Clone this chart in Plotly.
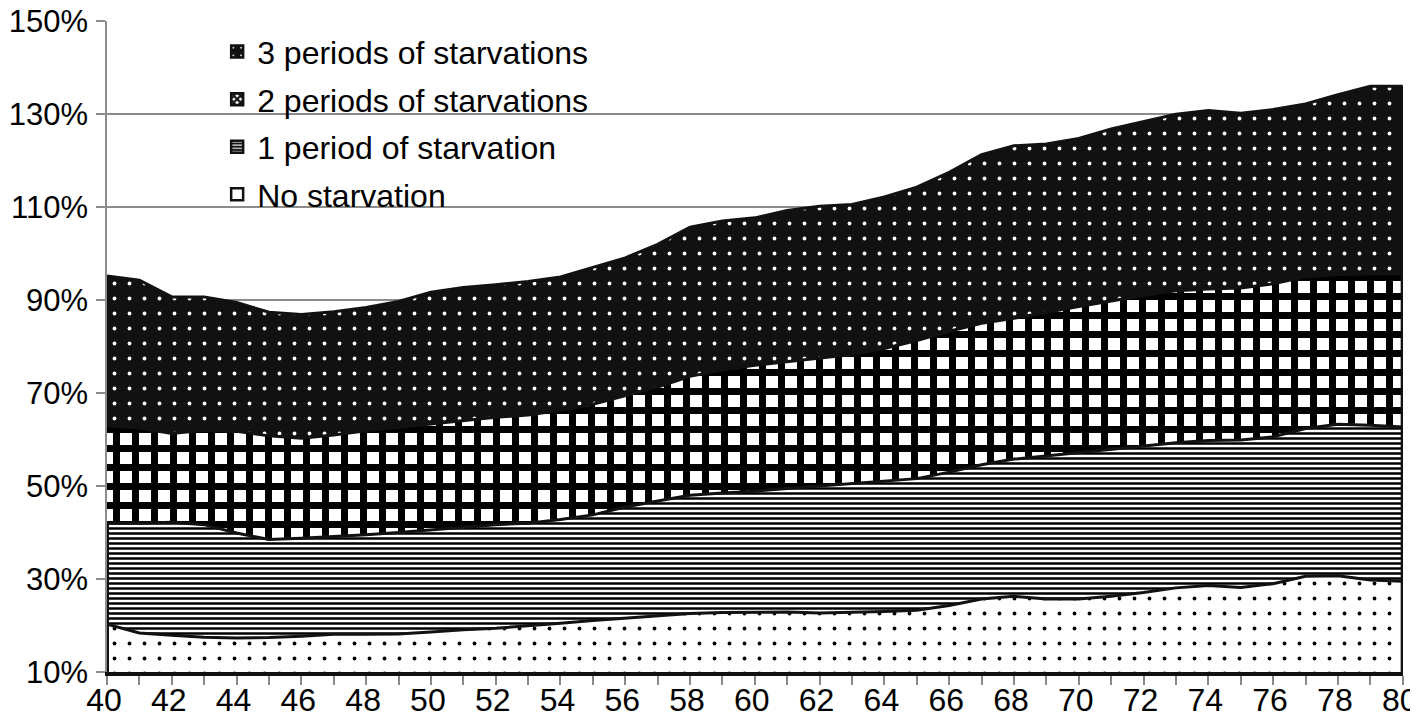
import plotly.graph_objects as go

# ages on the x axis
ages = list(range(40, 81))

# stacked shares (%), one list per layer
no_starvation = [20.3, 18.4, 17.9, 17.5, 17.3, 17.4, 17.7, 18.1, 18.1, 18.2,
                 18.6, 19.1, 19.4, 19.9, 20.5, 21.1, 21.6, 22.1, 22.6, 22.8,
                 22.9, 22.9, 22.7, 22.8, 23.0, 23.3, 24.3, 25.7, 26.3, 25.7,
                 25.7, 26.3, 27.1, 28.1, 28.6, 28.2, 29.0, 30.6, 30.7, 29.8, 29.5]
one_period = [21.7, 23.6, 24.3, 24.2, 22.6, 21.1, 21.1, 21.0, 21.4, 21.8,
              22.0, 22.0, 22.3, 22.1, 22.3, 22.7, 23.9, 24.7, 25.4, 25.7,
              26.0, 26.6, 27.3, 27.7, 28.0, 28.3, 28.7, 28.9, 29.5, 30.8,
              31.4, 31.5, 31.4, 31.2, 31.2, 31.7, 31.6, 31.8, 32.6, 33.3, 33.2]
two_periods = [21.0, 20.5, 19.1, 20.3, 21.9, 22.3, 21.5, 21.9, 22.4, 22.6,
               22.8, 23.0, 23.1, 23.3, 23.5, 23.8, 23.9, 24.5, 25.6, 26.5,
               27.1, 27.3, 27.5, 27.8, 28.6, 29.7, 30.3, 30.4, 30.3, 30.9,
               31.5, 32.0, 32.5, 32.7, 32.6, 32.7, 32.9, 32.6, 32.2, 32.5, 32.9]
three_periods = [32.2, 31.8, 29.4, 28.7, 27.7, 26.6, 26.6, 26.5, 26.5, 27.1,
                 28.3, 28.6, 28.5, 28.7, 28.7, 29.4, 29.7, 30.7, 32.1, 32.0,
                 31.7, 32.5, 32.7, 32.3, 32.6, 33.0, 34.2, 36.3, 37.1, 36.2,
                 36.2, 37.0, 37.4, 38.0, 38.4, 37.6, 37.5, 37.2, 38.7, 40.4, 40.4]

series = [
    ('No starvation', no_starvation,
     dict(shape='.', bgcolor='white', fgcolor='black', size=15, solidity=0.05)),
    ('1 period of starvation', one_period,
     dict(shape='-', bgcolor='white', fgcolor='black', size=5, solidity=0.5)),
    ('2 periods of starvations', two_periods,
     dict(shape='+', bgcolor='white', fgcolor='black', size=19, solidity=0.6)),
    ('3 periods of starvations', three_periods,
     dict(shape='.', bgcolor='#111111', fgcolor='white', size=15, solidity=0.05)),
]

fig = go.Figure()
for name, vals, pat in series:
    fig.add_trace(go.Scatter(
        x=ages, y=vals, name=name,
        stackgroup='one', mode='lines',
        line=dict(color='#111111', width=3),
        fillcolor=pat['bgcolor'],
        fillpattern=dict(fillmode='replace', **pat),
        hoverinfo='skip', showlegend=False,
    ))

# legend entries as small patterned squares, top layer listed first
legend_pats = {
    'No starvation': dict(shape='', bgcolor='white'),
    '1 period of starvation': dict(shape='-', bgcolor='#111111', fgcolor='white', size=4, solidity=0.35),
    '2 periods of starvations': dict(shape='x', bgcolor='white', fgcolor='#111111', size=6, solidity=0.7),
    '3 periods of starvations': dict(shape='.', bgcolor='#111111', fgcolor='white', size=12, solidity=0.06),
}
for name, vals, pat in reversed(series):
    lp = legend_pats[name]
    fig.add_trace(go.Bar(
        x=[None], y=[None], name=name, legendgroup=name,
        marker=dict(color=lp['bgcolor'], line=dict(color='#111111', width=2.5),
                    pattern=dict(fillmode='replace', **lp)),
        hoverinfo='skip',
    ))

# black outline on the left/right edges of the lower layers
lower_top_first = no_starvation[0] + one_period[0]
total_last = no_starvation[-1] + one_period[-1] + two_periods[-1] + three_periods[-1]
fig.add_shape(type='line', x0=ages[0], x1=ages[0], y0=10, y1=lower_top_first,
              line=dict(color='#111111', width=4))
fig.add_shape(type='line', x0=ages[-1], x1=ages[-1], y0=10, y1=total_last,
              line=dict(color='#111111', width=4))

# page body adds an 8px offset, so the figure is sized a bit smaller
fig.update_layout(
    width=1410, height=714,
    paper_bgcolor='white', plot_bgcolor='white',
    margin=dict(l=99, r=15, t=13, b=50),
    font=dict(family='Liberation Sans, Arial, sans-serif', size=32, color='black'),
    showlegend=True,
    legend=dict(
        x=0.085, y=0.995, xanchor='left', yanchor='top',
        traceorder='grouped', bgcolor='rgba(0,0,0,0)',
        font=dict(size=32), itemwidth=30, tracegroupgap=3,
    ),
    xaxis=dict(
        range=[40, 80.01], tick0=40, dtick=2, automargin=False,
        showgrid=False, zeroline=False,
        showline=True, linecolor='#111111', linewidth=4,
        ticks='outside', ticklen=9, tickcolor='#888888', tickwidth=1.5,
        minor=dict(dtick=1, ticks='outside', ticklen=9, tickcolor='#888888', tickwidth=1.5),
        tickfont=dict(size=32), ticklabeloverflow='allow', ticklabelstandoff=-12,
        ticklabelshift=-3,
    ),
    yaxis=dict(
        range=[10, 150.05], tick0=10, dtick=20, ticksuffix='%', automargin=False,
        showgrid=True, gridcolor='#8c8c8c', gridwidth=1.5,
        zeroline=False,
        showline=True, linecolor='#8c8c8c', linewidth=1.5,
        ticks='outside', ticklen=9, tickcolor='#8c8c8c', tickwidth=1.5,
        tickfont=dict(size=31), ticklabeloverflow='allow', ticklabelstandoff=2,
    ),
)

fig.write_html('out.html')
